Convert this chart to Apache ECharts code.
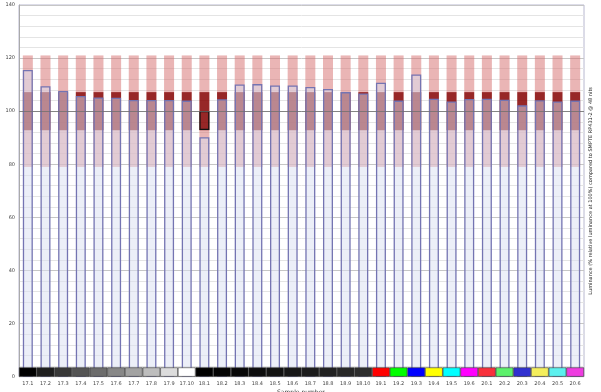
<!DOCTYPE html>
<html>
<head>
<meta charset="utf-8">
<script src="https://cdn.jsdelivr.net/npm/echarts@6/dist/echarts.min.js"></script>
<style>html,body{margin:0;padding:0;background:#fff}#c{width:601px;height:392px}</style>
</head>
<body>
<div id="c"></div>
<script>
// ---- data ----
const categories = ['17.1','17.2','17.3','17.4','17.5','17.6','17.7','17.8','17.9','17.10',
  '18.1','18.2','18.3','18.4','18.5','18.6','18.7','18.8','18.9','18.10',
  '19.1','19.2','19.3','19.4','19.5','19.6',
  '20.1','20.2','20.3','20.4','20.5','20.6'];
const measured = [115.5,109.4,107.6,105.7,105.2,105.1,104.2,104.2,104.2,104.0,
  90.2,104.5,110.1,110.2,109.7,109.7,109.1,108.4,107.2,106.7,
  110.7,104.0,113.8,104.7,103.7,104.6,
  104.7,104.3,102.2,104.1,103.7,104.0];
// tolerance zone boundaries (same for every sample)
const zoneLow = 79;      // bottom of outer tolerance band
const targetLow = 92.8;  // bottom of target band
const targetHigh = 107.2;// top of target band
const zoneHigh = 121;    // top of outer tolerance band
// highlighted range box on sample 18.1
const boxSample = '18.1';
const boxLow = 92.9;
const boxHigh = 100.1;
// colour patch strip
const stripHeight = 3.5;
const stripColors = ['#000000','#1e1e1e','#383838','#545454','#6c6c6c','#878787','#a2a2a2','#bdbdbd','#dcdcdc','#ffffff',
  '#000000','#040404','#080808','#0d0d0d','#121212','#171717','#1c1c1c','#212121','#272727','#2d2d2d',
  '#ff0000','#00ff00','#0000ff','#ffff00','#00ffff','#ff00ff',
  '#f8303c','#5cf06c','#3030d0','#f4ee5c','#5cf0ee','#ee3ce0'];
const yTicks = {min:0, max:140, interval:20};
const xName = 'Sample number';
const rightName = 'Luminance (% relative luminance at 100%) compared to SMPTE RP431-2 @ 48 nits';

// ---- build ----
const n = categories.length;
const fill = v => categories.map(() => v);
const boxIdx = categories.indexOf(boxSample);
const boxBase = categories.map((c,i) => i === boxIdx ? boxLow : '-');
const boxSpan = categories.map((c,i) => i === boxIdx ? +(boxHigh - boxLow).toFixed(2) : '-');
const BW = 10;
const font = 'DejaVu Sans';

const chart = echarts.init(document.getElementById('c'), null, {renderer:'canvas'});
chart.setOption({
  animation:false,
  backgroundColor:'#ffffff',
  title:{text:xName, left:272, top:384, textStyle:{fontSize:6, fontWeight:'normal', color:'#333', fontFamily:font}},
  grid:{left:19, right:8, top:5, bottom:15.3, show:true, borderColor:'#b8b8d0', borderWidth:1},
  xAxis:[
    {type:'category', data:categories, axisTick:{show:false},
     axisLine:{show:false},
     axisLabel:{interval:0, fontSize:5, color:'#444', margin:5, fontFamily:font},
     splitLine:{show:false}},
    {type:'category', data:categories, show:false}
  ],
  yAxis:[
    {type:'value', min:yTicks.min, max:yTicks.max, interval:yTicks.interval,
     axisLine:{show:true, lineStyle:{color:'#aaaaaa'}}, axisTick:{show:false},
     axisLabel:{fontSize:5, color:'#444', margin:4, fontFamily:font},
     splitLine:{lineStyle:{color:'#c6c6c6', width:1}},
     minorTick:{show:false, splitNumber:5},
     minorSplitLine:{show:true, lineStyle:{color:'#e4e4e4', width:1}}},
    {type:'value', position:'right', min:yTicks.min, max:yTicks.max,
     axisLine:{show:false}, axisTick:{show:false}, axisLabel:{show:false}, splitLine:{show:false},
     name:rightName, nameLocation:'middle', nameRotate:90, nameGap:4,
     nameTextStyle:{fontSize:5, color:'#222', fontFamily:font}}
  ],
  series:[
    {name:'base', type:'bar', stack:'zone', barWidth:BW, barGap:'-100%', data:fill(zoneLow),
     itemStyle:{color:'rgba(0,0,0,0)'}, silent:true},
    {name:'low tol', type:'bar', stack:'zone', barWidth:BW, barGap:'-100%', data:fill(+(targetLow-zoneLow).toFixed(2)),
     itemStyle:{color:'rgba(214,108,108,0.5)'}, silent:true},
    {name:'target', type:'bar', stack:'zone', barWidth:BW, barGap:'-100%', data:fill(+(targetHigh-targetLow).toFixed(2)),
     itemStyle:{color:'rgba(134,4,4,0.86)'}, silent:true},
    {name:'high tol', type:'bar', stack:'zone', barWidth:BW, barGap:'-100%', data:fill(+(zoneHigh-targetHigh).toFixed(2)),
     itemStyle:{color:'rgba(214,108,108,0.5)'}, silent:true},
    {name:'measured', type:'bar', barWidth:BW, barGap:'-100%', data:measured, z:3,
     itemStyle:{color:'rgba(218,225,242,0.52)', borderColor:'#7474b2', borderWidth:1.3},
     markLine:{silent:true, symbol:'none', label:{show:false},
       lineStyle:{color:'rgba(110,110,110,0.75)', type:'solid', width:1},
       data:[{yAxis:100}]}},
    {name:'box base', type:'bar', stack:'box', barWidth:BW, barGap:'-100%', data:boxBase, z:4,
     itemStyle:{color:'rgba(0,0,0,0)'}, silent:true},
    {name:'box', type:'bar', stack:'box', barWidth:BW, barGap:'-100%', data:boxSpan, z:4,
     itemStyle:{color:'rgba(0,0,0,0)', borderColor:'#111', borderWidth:1.2}, silent:true},
    {name:'strip', type:'bar', xAxisIndex:1, barWidth:'100%', z:6,
     data:categories.map((c,i) => ({value:stripHeight, itemStyle:{color:stripColors[i]}})),
     itemStyle:{borderColor:'#333', borderWidth:0.6}, silent:true}
  ]
});
</script>
</body>
</html>
